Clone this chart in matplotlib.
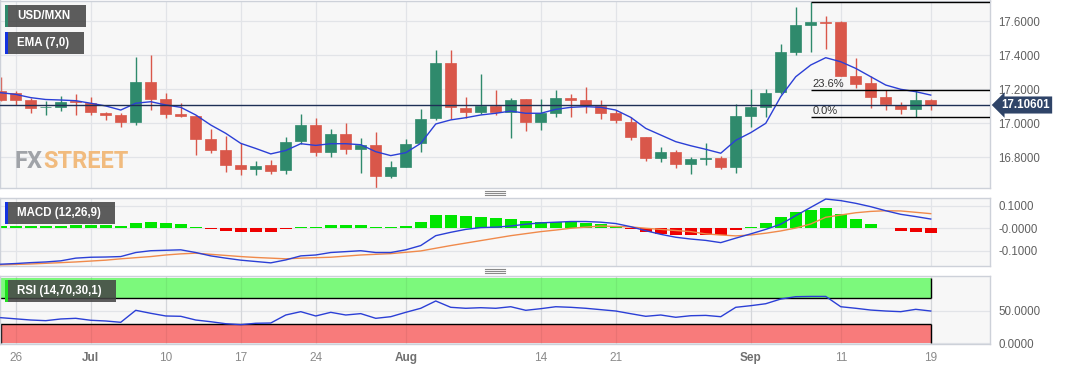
import matplotlib
matplotlib.use('Agg')
import matplotlib.pyplot as plt
from matplotlib.patches import Rectangle
from matplotlib.lines import Line2D
import numpy as np

# ---------------- data ----------------
opens  = [17.19, 17.18, 17.14, 17.093, 17.094, 17.13, 17.121, 17.062, 17.049, 17.006,
          17.245, 17.141, 17.055, 17.043, 16.906, 16.843, 16.757, 16.731, 16.753, 16.725,
          16.896, 16.988, 16.833, 16.935, 16.847, 16.872, 16.692, 16.745, 16.882, 17.029,
          17.353, 17.092, 17.065, 17.10, 17.065, 17.141, 17.006, 17.059, 17.151, 17.137,
          17.102, 17.059, 17.01, 16.918, 16.794, 16.833, 16.759, 16.788, 16.797, 16.741,
          17.045, 17.098, 17.182, 17.421, 17.578, 17.598, 17.594, 17.278, 17.235, 17.153,
          17.108, 17.082, 17.137]
highs  = [17.27, 17.19, 17.15, 17.13, 17.16, 17.17, 17.153, 17.068, 17.06, 17.388,
          17.40, 17.176, 17.121, 17.05, 16.965, 16.925, 16.882, 16.78, 16.786, 16.92,
          17.053, 17.03, 16.965, 17.0, 16.912, 16.95, 16.78, 16.91, 17.082, 17.431,
          17.431, 17.153, 17.29, 17.196, 17.146, 17.141, 17.141, 17.196, 17.17, 17.212,
          17.14, 17.08, 17.04, 16.92, 16.858, 16.845, 16.80, 16.886, 16.81, 17.114,
          17.20, 17.20, 17.465, 17.682, 17.715, 17.631, 17.60, 17.382, 17.278, 17.196,
          17.125, 17.196, 17.145]
lows   = [17.13, 17.11, 17.06, 17.05, 17.07, 17.05, 17.049, 17.019, 16.98, 16.99,
          17.078, 17.029, 17.04, 16.813, 16.827, 16.715, 16.696, 16.696, 16.70, 16.70,
          16.88, 16.81, 16.80, 16.82, 16.706, 16.62, 16.68, 16.74, 16.833, 17.02,
          17.024, 17.029, 17.055, 17.05, 16.912, 16.955, 16.96, 17.04, 17.04, 17.06,
          17.024, 17.0, 16.90, 16.78, 16.77, 16.735, 16.70, 16.755, 16.73, 16.71,
          16.976, 17.04, 17.175, 17.40, 17.421, 17.44, 17.278, 17.21, 17.088, 17.08,
          17.053, 17.035, 17.08]
closes = [17.14, 17.14, 17.09, 17.097, 17.127, 17.125, 17.065, 17.049, 17.006, 17.245,
          17.143, 17.055, 17.045, 16.906, 16.843, 16.757, 16.729, 16.751, 16.721, 16.89,
          16.988, 16.833, 16.935, 16.847, 16.872, 16.692, 16.745, 16.878, 17.025, 17.353,
          17.094, 17.065, 17.102, 17.065, 17.137, 17.006, 17.059, 17.151, 17.137, 17.108,
          17.062, 17.02, 16.918, 16.794, 16.833, 16.759, 16.79, 16.793, 16.745, 17.045,
          17.098, 17.176, 17.418, 17.578, 17.598, 17.592, 17.278, 17.231, 17.156, 17.114,
          17.082, 17.137, 17.106]
ema7   = [17.18, 17.17, 17.151, 17.14, 17.137, 17.133, 17.118, 17.102, 17.078, 17.118,
          17.127, 17.108, 17.094, 17.049, 16.99, 16.941, 16.882, 16.852, 16.82, 16.84,
          16.88, 16.87, 16.88, 16.88, 16.874, 16.833, 16.81, 16.827, 16.882, 16.996,
          17.02, 17.033, 17.049, 17.059, 17.072, 17.059, 17.059, 17.082, 17.094, 17.098,
          17.094, 17.078, 17.035, 16.97, 16.931, 16.892, 16.868, 16.847, 16.824, 16.90,
          16.945, 17.0, 17.157, 17.274, 17.343, 17.386, 17.362, 17.323, 17.274, 17.225,
          17.20, 17.186, 17.166]
macd_line = [-0.16, -0.157, -0.153, -0.15, -0.145, -0.133, -0.129, -0.128, -0.126, -0.108,
             -0.1, -0.098, -0.096, -0.108, -0.123, -0.133, -0.142, -0.148, -0.154, -0.141,
             -0.123, -0.119, -0.108, -0.104, -0.1, -0.108, -0.108, -0.096, -0.077, -0.033,
             -0.018, -0.005, 0.003, 0.005, 0.01, 0.018, 0.024, 0.027, 0.03, 0.03,
             0.027, 0.021, 0.007, -0.011, -0.027, -0.04, -0.048, -0.054, -0.064, -0.044,
             -0.025, -0.005, 0.018, 0.056, 0.093, 0.13, 0.123, 0.111, 0.096, 0.078,
             0.062, 0.052, 0.041]
signal_line = [-0.163, -0.161, -0.159, -0.156, -0.153, -0.15, -0.146, -0.142, -0.136, -0.131,
               -0.126, -0.119, -0.114, -0.111, -0.116, -0.121, -0.126, -0.13, -0.133, -0.136,
               -0.133, -0.131, -0.129, -0.124, -0.119, -0.116, -0.113, -0.107, -0.101, -0.089,
               -0.077, -0.066, -0.055, -0.044, -0.033, -0.024, -0.015, -0.008, 0.0, 0.005,
               0.01, 0.008, 0.006, 0.0, -0.005, -0.01, -0.015, -0.025, -0.03, -0.034,
               -0.03, -0.022, -0.012, 0.001, 0.019, 0.049, 0.059, 0.069, 0.075, 0.078,
               0.077, 0.071, 0.065]
histogram = [0.008, 0.008, 0.008, 0.008, 0.01, 0.013, 0.013, 0.013, 0.009, 0.025,
             0.028, 0.022, 0.018, 0.005, -0.003, -0.01, -0.018, -0.018, -0.018, -0.005,
             0.005, 0.005, 0.015, 0.015, 0.015, 0.005, 0.005, 0.01, 0.027, 0.057,
             0.058, 0.054, 0.05, 0.046, 0.043, 0.034, 0.03, 0.03, 0.03, 0.025,
             0.017, 0.012, -0.003, -0.017, -0.025, -0.028, -0.028, -0.028, -0.028, -0.007,
             0.007, 0.025, 0.049, 0.071, 0.083, 0.089, 0.064, 0.043, 0.021, 0.002,
             -0.01, -0.015, -0.02]
rsi = [39.3, 37.5, 35.7, 34.7, 37.3, 38.3, 35.3, 34.2, 32.2, 50.6,
       46.0, 41.9, 41.4, 35.7, 33.1, 30.0, 28.6, 30.7, 31.1, 43.4,
       48.5, 41.9, 47.5, 43.4, 45.5, 38.3, 40.8, 47.5, 53.7, 64.9,
       55.2, 53.7, 54.6, 53.7, 56.1, 50.6, 53.1, 56.1, 55.2, 53.7,
       51.6, 49.5, 45.4, 41.4, 43.4, 39.9, 42.3, 42.8, 40.8, 55.2,
       57.7, 60.7, 67.9, 71.5, 71.9, 71.9, 56.1, 53.7, 51.0, 49.5,
       48.5, 52.1, 49.5]
tick_pos    = [1, 6, 11, 16, 21, 27, 36, 41, 50, 56, 62]
tick_labels = ['26', 'Jul', '10', '17', '24', 'Aug', '14', '21', 'Sep', '11', '19']
month_labels = {'Jul', 'Aug', 'Sep'}
price_ticks = [16.8, 17.0, 17.2, 17.4, 17.6]
last_price = 17.10601
fib_high, fib_low = 17.715, 17.035
fib_236 = fib_low + 0.236 * (fib_high - fib_low)
fib_start = 54

# ---------------- figure ----------------
W, H = 1067, 370
plt.rcParams['font.family'] = ['Liberation Sans', 'DejaVu Sans']
fig = plt.figure(figsize=(W / 100, H / 100), dpi=100)
fig.patch.set_facecolor('white')

def ax_px(x0, y0, x1, y1):
    return fig.add_axes([x0 / W, 1 - y1 / H, (x1 - x0) / W, (y1 - y0) / H])

ax = ax_px(0, 0.5, 990, 188)
axm = ax_px(0, 197.7, 990, 266)
axr = ax_px(0, 275.7, 990, 344)

GREEN = '#2f8a6c'
RED = '#d9574a'
GRID = '#e2e4e8'
SPINE = '#cdd1d9'
TXT = '#606060'

idx = np.arange(len(closes))
XL = (-0.05, 65.95)

for a in (ax, axm, axr):
    a.set_facecolor('#f7f7f7')
    a.set_xlim(*XL)
    a.set_xticks(tick_pos)
    a.grid(True, color=GRID, lw=0.9, zorder=0)
    a.set_axisbelow(True)
    for s in a.spines.values():
        s.set_color(SPINE)
        s.set_linewidth(1.0)
    a.yaxis.tick_right()
    a.tick_params(axis='y', length=0, pad=6, labelsize=8.3, labelcolor=TXT)
    a.tick_params(axis='x', length=0)

# ---- main candles ----
ax.set_ylim(16.6194, 17.7224)
ax.set_yticks(price_ticks)
ax.set_yticklabels(['%.4f' % v for v in price_ticks])
ax.set_xticklabels([])
o = np.array(opens); c = np.array(closes)
hi = np.array(highs); lo = np.array(lows)
up = c >= o
cols = np.where(up, GREEN, RED)
ax.vlines(idx, lo, hi, colors=cols, lw=1.0, zorder=2)
bottoms = np.minimum(o, c)
heights = np.maximum(np.abs(c - o), 0.004)
ax.bar(idx, heights, bottom=bottoms, width=0.76, color=cols, edgecolor=cols, lw=0.5, zorder=3)
ax.plot(idx, ema7, color='#2b3fd6', lw=1.0, zorder=4)
ax.axhline(last_price, color='#1d2f55', lw=1.0, zorder=4)
ax.hlines([fib_high, fib_236, fib_low], fib_start, XL[1], colors='black', lw=1.0, zorder=5)
ax.text(fib_start + 0.1, fib_236 + 0.006, '23.6%', fontsize=8, color='#333333', va='bottom', ha='left', zorder=6)
ax.text(fib_start + 0.1, fib_low + 0.006, '0.0%', fontsize=8, color='#333333', va='bottom', ha='left', zorder=6)

# watermark
fx = ax.text(15 / 990, 1 - 167 / 187.5, 'FX', transform=ax.transAxes, fontsize=17,
             fontweight='bold', family=['Roboto', 'DejaVu Sans'], color='#9c9fa4',
             va='baseline', ha='left', alpha=0.95, zorder=1)
ax.annotate('STREET', xy=(1, 0), xycoords=fx, xytext=(0.5, 0), textcoords='offset points',
            fontsize=17, fontweight='bold', family=['Roboto', 'DejaVu Sans'],
            color='#f1b878', va='bottom', ha='left', alpha=0.95, zorder=1)

# price tag
fig.text(1001 / W, 1 - 105 / H, '%.5f' % last_price, fontsize=8.3, fontweight='bold', color='white',
         va='center', ha='left', zorder=20,
         bbox=dict(boxstyle='larrow,pad=0.22', fc='#2f4468', ec='none'))

# ---- MACD ----
axm.set_ylim(-0.168, 0.136)
axm.set_yticks([0.1, 0.0, -0.1])
axm.set_yticklabels(['0.1000', '-0.0000', '-0.1000'])
axm.set_xticklabels([])
hcols = []
for k, v in enumerate(histogram):
    if abs(v) < 0.004 and v > 0:
        hcols.append('#b9f0b9')
    elif v >= 0:
        hcols.append('#00e600')
    else:
        hcols.append('#ee0000')
axm.bar(idx, histogram, width=0.78, color=hcols, zorder=2)
axm.plot(idx, signal_line, color='#f08a4b', lw=1.0, zorder=3)
axm.plot(idx, macd_line, color='#2b3fd6', lw=1.0, zorder=4)

# ---- RSI ----
axr.set_ylim(-1.1, 103.7)
axr.set_yticks([50, 0])
axr.set_yticklabels(['50.0000', '0.0000'])
end = len(closes) - 1
axr.add_patch(Rectangle((XL[0], 70), end - XL[0], 30.4, facecolor='#7cf97c', edgecolor='none', zorder=1))
axr.add_patch(Rectangle((XL[0], 0), end - XL[0], 30, facecolor='#f87b7b', edgecolor='none', zorder=1))
axr.hlines([70, 30], XL[0], end, colors='black', lw=1.0, zorder=2)
axr.vlines([end, end], [70, 0], [100.4, 30], colors='black', lw=1.0, zorder=2)
axr.vlines([XL[0] + 0.05], [0], [30], colors='black', lw=1.0, zorder=2)
for p in tick_pos:
    axr.axvline(p, color='#000000', alpha=0.06, lw=0.9, zorder=1.5)
axr.plot(idx, rsi, color='#2b3fd6', lw=1.0, zorder=4)
axr.set_xticklabels(tick_labels)
axr.tick_params(axis='x', pad=6, labelsize=8.5)
for lab in axr.get_xticklabels():
    if lab.get_text() in month_labels:
        lab.set_fontweight('bold')
        lab.set_color('#707070')
    else:
        lab.set_color('#8a8a8a')

# ---- label boxes ----
def label_box(x0, y0, x1, y1, text, stripe):
    fig.add_artist(Rectangle((x0 / W, 1 - y1 / H), (x1 - x0) / W, (y1 - y0) / H,
                             transform=fig.transFigure, facecolor=(0.27, 0.27, 0.27),
                             alpha=0.87, edgecolor='none', zorder=10))
    fig.add_artist(Rectangle((x0 / W, 1 - y1 / H), 3 / W, (y1 - y0) / H,
                             transform=fig.transFigure, facecolor=stripe,
                             edgecolor='none', zorder=11))
    fig.text((x0 + 12) / W, 1 - (y0 + y1) / 2 / H, text, color='white', fontweight='bold',
             fontsize=8.3, va='center', ha='left', zorder=12)

label_box(5, 5, 86, 27, 'USD/MXN', '#2f8a6c')
label_box(5, 32, 84, 54, 'EMA (7,0)', '#1432e0')
label_box(5, 202, 115, 224, 'MACD (12,26,9)', '#1432e0')
label_box(5, 280, 116, 302, 'RSI (14,70,30,1)', '#20e020')

# ---- panel resize handles ----
for yc in (193.3, 271.3):
    for dy in (-2, 0, 2):
        fig.add_artist(Line2D([485 / W, 505 / W], [1 - (yc + dy) / H] * 2,
                              transform=fig.transFigure, color='#8a8a8a', lw=0.8, zorder=10))

fig.savefig('out.png', dpi=100, facecolor='white')
